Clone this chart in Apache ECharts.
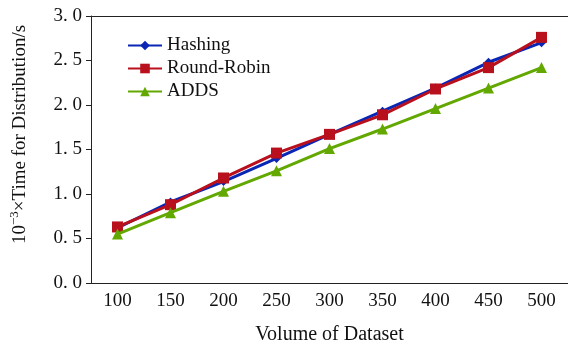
<!DOCTYPE html>
<html><head><meta charset="utf-8">
<script src="https://cdn.jsdelivr.net/npm/echarts@6/dist/echarts.min.js"></script>
<style>html,body{margin:0;padding:0;background:#fff}#c{width:568px;height:343px}</style>
</head><body><div id="c"></div>
<script>
const categories = ['100','150','200','250','300','350','400','450','500'];
const hashing = [0.62, 0.91, 1.14, 1.40, 1.67, 1.93, 2.19, 2.48, 2.70];
const roundRobin = [0.63, 0.88, 1.18, 1.46, 1.67, 1.89, 2.18, 2.42, 2.76];
const adds = [0.55, 0.79, 1.03, 1.26, 1.51, 1.73, 1.96, 2.19, 2.42];

const font = 'Liberation Serif';
const fs = 19;
const chart = echarts.init(document.getElementById('c'));
function fmtY(v){ const s = v.toFixed(1); return s.replace('.', '. '); }
chart.setOption({
  animation:false,
  textStyle:{fontFamily:font},
  grid:{left:91, right:0, top:16, bottom:60, show:false,
        outerBoundsMode:'none', containLabel:false},
  legend:{
    left:122, top:31, orient:'vertical', itemGap:4, itemWidth:34, itemHeight:12,
    textStyle:{fontFamily:font, fontSize:fs, color:'#111'},
    data:['Hashing','Round-Robin','ADDS']
  },
  xAxis:[{
    type:'category', data:categories, boundaryGap:true,
    axisLine:{lineStyle:{color:'#222'}},
    axisTick:{inside:true, length:5, alignWithLabel:true, lineStyle:{color:'#222'}},
    axisLabel:{fontFamily:font, fontSize:fs, color:'#111', margin:9},
    name:'Volume of Dataset', nameLocation:'middle', nameGap:42,
    nameTextStyle:{fontFamily:font, fontSize:20, color:'#111', verticalAlign:'top'}
  },{
    type:'category', data:categories, position:'top',
    axisLine:{show:true, lineStyle:{color:'#222'}},
    axisTick:{show:false}, axisLabel:{show:false}, splitLine:{show:false}
  }],
  yAxis:{
    type:'value', min:0, max:3, interval:0.5,
    splitLine:{show:false},
    axisLine:{show:true, lineStyle:{color:'#222'}},
    axisTick:{show:true, length:5, lineStyle:{color:'#222'}},
    axisLabel:{fontFamily:font, fontSize:fs, color:'#111', margin:9, formatter:fmtY},
    name:'{sup|10}{exp|−3}{t|×Time for Distribution/s}', nameLocation:'middle', nameGap:58,
    nameTextStyle:{fontFamily:font, fontSize:fs, color:'#111', padding:[0,0,0,30],
      rich:{sup:{fontFamily:font,fontSize:fs,color:'#111'},
            exp:{fontFamily:font,fontSize:13,color:'#111',verticalAlign:'bottom',padding:[0,0,12,0]},
            t:{fontFamily:font,fontSize:fs,color:'#111'}}}
  },
  series:[
    {name:'Hashing', type:'line', data:hashing, symbol:'diamond', symbolSize:9,
     lineStyle:{width:3, color:'#0a26b4'}, itemStyle:{color:'#0a26b4'}, z:2},
    {name:'Round-Robin', type:'line', data:roundRobin, symbol:'rect', symbolSize:11,
     lineStyle:{width:3, color:'#b8101c'}, itemStyle:{color:'#b8101c'}, z:3},
    {name:'ADDS', type:'line', data:adds, symbol:'triangle', symbolSize:11,
     lineStyle:{width:3, color:'#62a800'}, itemStyle:{color:'#62a800'}, z:4}
  ]
});
</script></body></html>
